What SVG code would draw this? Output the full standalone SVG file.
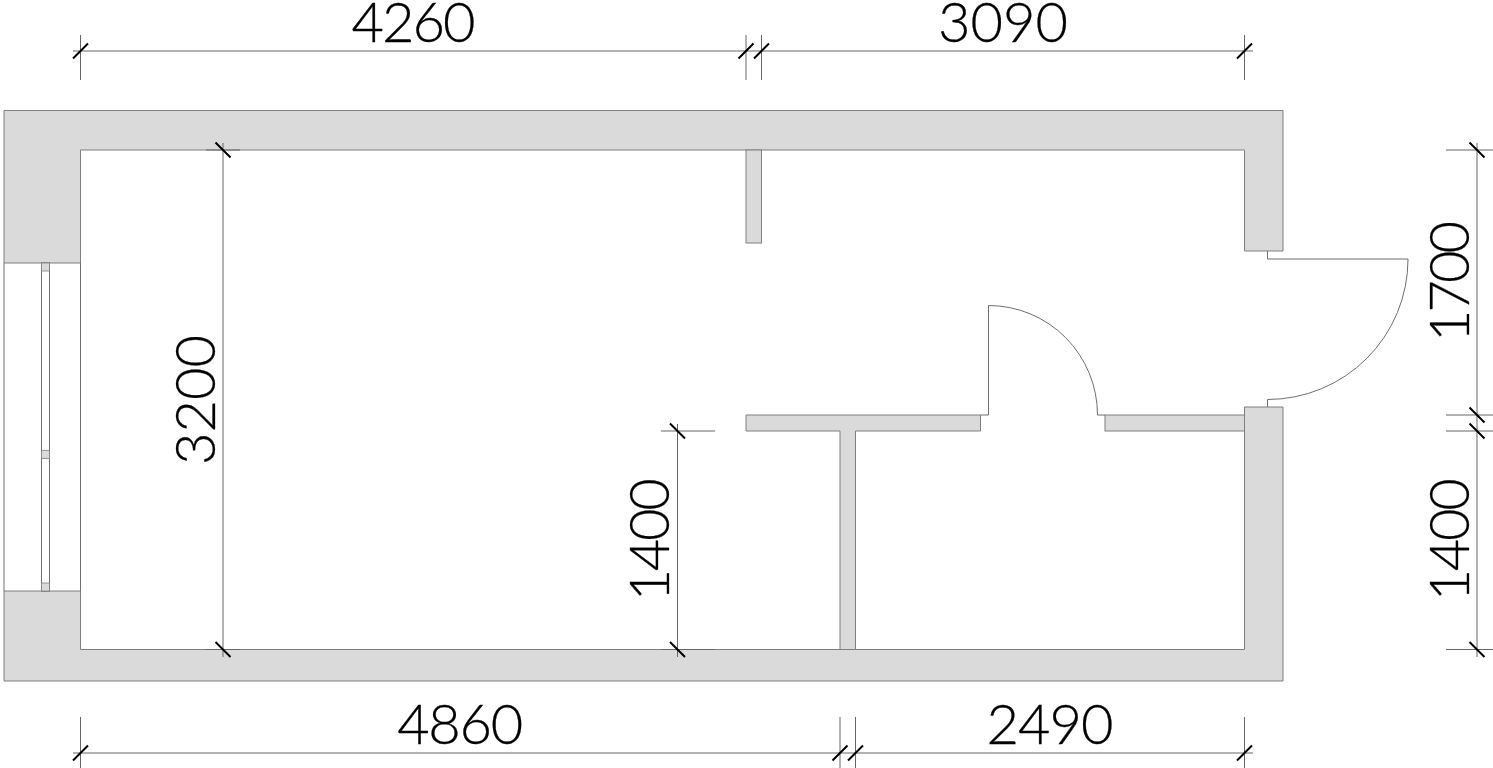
<svg xmlns="http://www.w3.org/2000/svg" width="1493" height="768" viewBox="0 0 1493 768">
<style>
.wall{fill:#dadada;stroke:#7f7f7f;stroke-width:1}
.thin{fill:none;stroke:#6f6f6f;stroke-width:1}
.glass{fill:#fff;stroke:#6f6f6f;stroke-width:1}
.pane{fill:#dadada;stroke:#7f7f7f;stroke-width:.8}
.dim{fill:none;stroke:#666;stroke-width:1}
.tick{fill:none;stroke:#000;stroke-width:2}
text{font-family:"Lato","Liberation Sans",sans-serif;font-weight:300;font-size:56px;fill:#000;stroke:#000;stroke-width:.3;text-anchor:middle}
</style>
<rect width="1493" height="768" fill="#fff"/>
<g id="walls">
<path class="wall" d="M4 110.5H1283V251H1244.5V150H80.5V263H4Z"/>
<path class="wall" d="M4 591H80.5V649.5H1244.5V407H1283V681H4Z"/>
<rect class="wall" x="746" y="150" width="15.5" height="93"/>
<path class="wall" d="M746 415H980.5V431H855.5V649.5H840V431H746Z"/>
<rect class="wall" x="1105" y="415" width="139.500" height="16"/>
</g>
<g id="window">
<path class="thin" d="M4 263V591M80.500 263V591"/>
<rect class="glass" x="41.500" y="263" width="8" height="328"/>
<rect class="pane" x="41.500" y="263" width="8" height="8"/>
<rect class="pane" x="41.500" y="450.500" width="8" height="8"/>
<rect class="pane" x="41.500" y="583" width="8" height="8"/>
</g>
<g id="door-inner">
<path class="thin" d="M980.500 415H988.500V305.500A109 109.500 0 0 1 1097.500 415H1105"/>
</g>
<g id="door-entry">
<path class="thin" d="M1267.500 251V259H1408A140.500 140.500 0 0 1 1267.500 399.500V407"/>
</g>
<g id="connectors">
<path class="dim" d="M73 51H1253M80.500 35V80M746 35V80M761.500 35V80M1244.500 35V80"/>
<path class="tick" d="M73 58.500L88 43.500M738.500 58.500L753.500 43.500M754 58.500L769 43.500M1237 58.500L1252 43.500"/>
<path class="dim" d="M73 753H1253M80.500 717V768M840 717V768M855.500 717V768M1244.500 717V768"/>
<path class="tick" d="M73 760.500L88 745.500M832.500 760.500L847.500 745.500M848 760.500L863 745.500M1237 760.500L1252 745.500"/>
<path class="dim" d="M223 143V657M206 150H240M206 649.500H240"/>
<path class="tick" d="M215.500 142.500L230.500 157.500M215.500 642L230.500 657"/>
<path class="dim" d="M677.500 424V657M661 431H715M661 649.500H715"/>
<path class="tick" d="M670 423.500L685 438.500M670 642L685 657"/>
<path class="dim" d="M1477 143V657M1446 150H1493M1446 415H1493M1446 431H1493M1446 649.500H1493"/>
<path class="tick" d="M1469.500 142.500L1484.500 157.500M1469.500 407.500L1484.500 422.500M1469.500 423.500L1484.500 438.500M1469.500 642L1484.500 657"/>
</g>
<g id="labels">
<text x="412.500" y="42" letter-spacing="-2">4260</text>
<text x="1003" y="42">3090</text>
<text x="459.500" y="744" letter-spacing="-1.300">4860</text>
<text x="1049.500" y="744" letter-spacing="-1">2490</text>
<text transform="translate(215 400) rotate(-90)">3200</text>
<text transform="translate(669 541) rotate(-90)" letter-spacing="-2.300">1400</text>
<text transform="translate(1469 283) rotate(-90)" letter-spacing="-3">1700</text>
<text transform="translate(1469 541) rotate(-90)" letter-spacing="-2.300">1400</text>
</g>
</svg>
